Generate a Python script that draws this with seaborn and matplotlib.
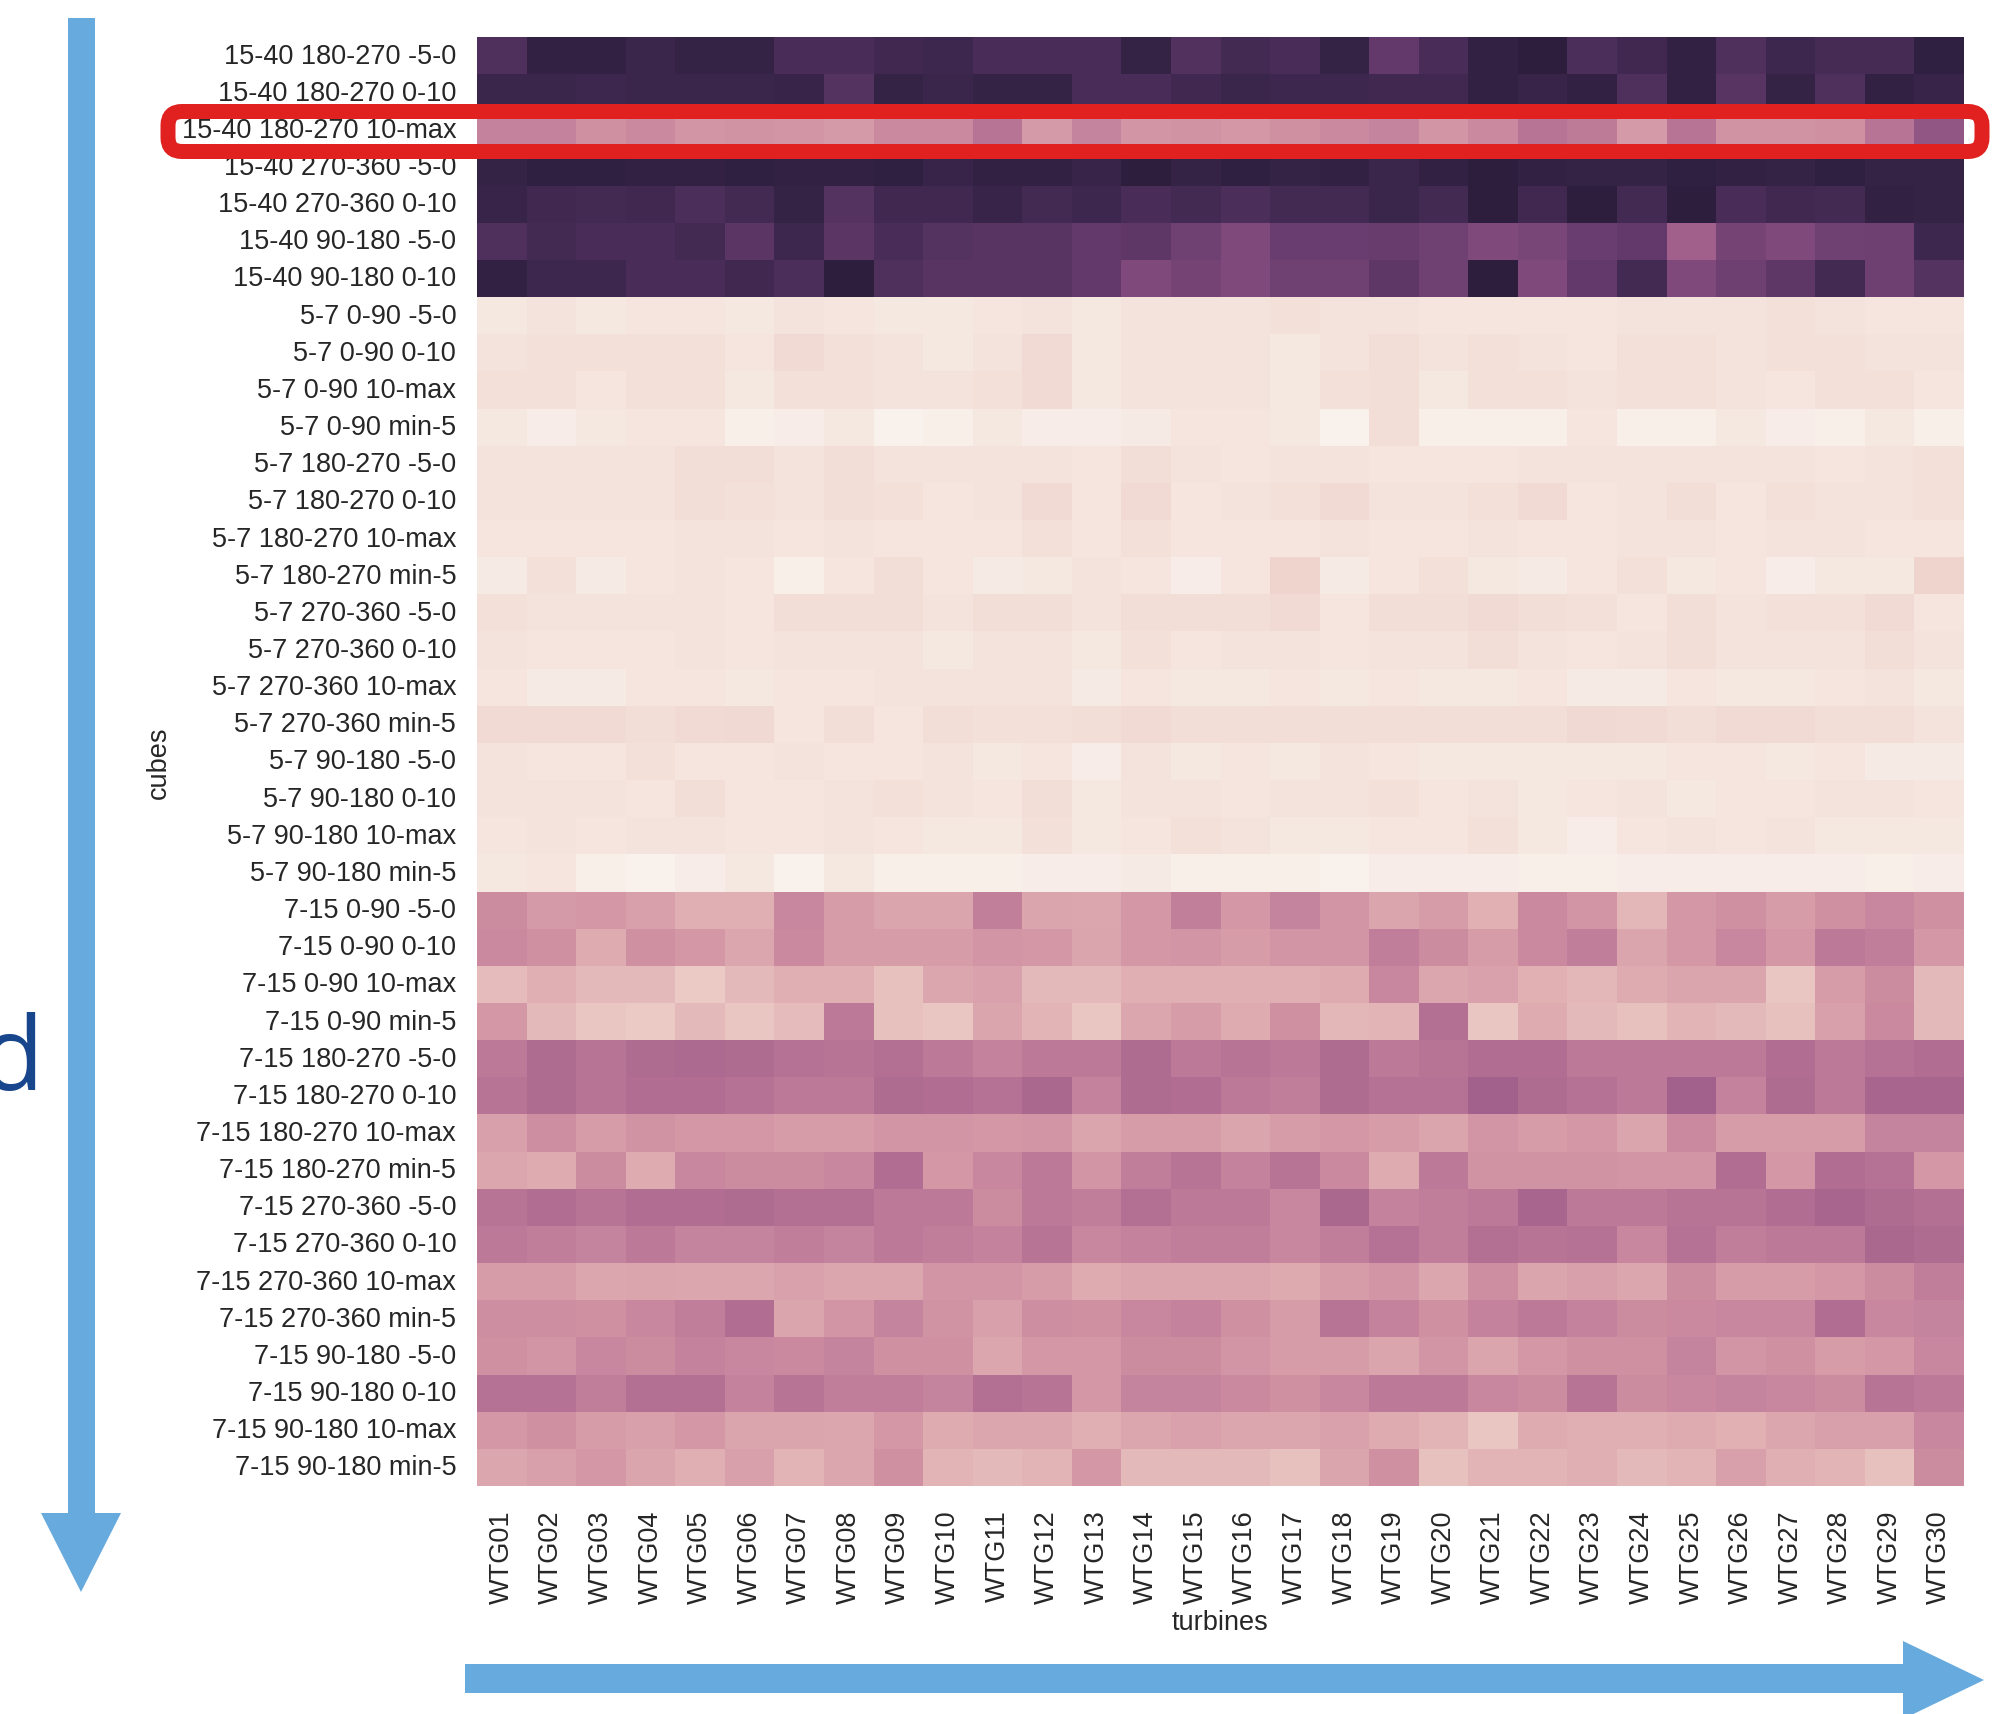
import numpy as np
import pandas as pd
import matplotlib
matplotlib.use("Agg")
import matplotlib.pyplot as plt
from matplotlib.patches import FancyBboxPatch, Polygon
import seaborn as sns

# ---- data -----------------------------------------------------------------
turbines = [f"WTG{i:02d}" for i in range(1, 31)]

cubes_15_40 = [
    "15-40 180-270 -5-0", "15-40 180-270 0-10", "15-40 180-270 10-max",
    "15-40 270-360 -5-0", "15-40 270-360 0-10",
    "15-40 90-180 -5-0", "15-40 90-180 0-10",
]
cubes_5_7 = [
    "5-7 0-90 -5-0", "5-7 0-90 0-10", "5-7 0-90 10-max", "5-7 0-90 min-5",
    "5-7 180-270 -5-0", "5-7 180-270 0-10", "5-7 180-270 10-max", "5-7 180-270 min-5",
    "5-7 270-360 -5-0", "5-7 270-360 0-10", "5-7 270-360 10-max", "5-7 270-360 min-5",
    "5-7 90-180 -5-0", "5-7 90-180 0-10", "5-7 90-180 10-max", "5-7 90-180 min-5",
]
cubes_7_15 = [
    "7-15 0-90 -5-0", "7-15 0-90 0-10", "7-15 0-90 10-max", "7-15 0-90 min-5",
    "7-15 180-270 -5-0", "7-15 180-270 0-10", "7-15 180-270 10-max", "7-15 180-270 min-5",
    "7-15 270-360 -5-0", "7-15 270-360 0-10", "7-15 270-360 10-max", "7-15 270-360 min-5",
    "7-15 90-180 -5-0", "7-15 90-180 0-10", "7-15 90-180 10-max", "7-15 90-180 min-5",
]

values_15_40 = [
    [0.88, 0.98, 0.98, 0.95, 0.97, 0.97, 0.90, 0.90, 0.93, 0.94, 0.90, 0.90, 0.90, 0.97, 0.87,
     0.92, 0.90, 0.97, 0.82, 0.90, 0.98, 1.00, 0.89, 0.93, 0.98, 0.88, 0.94, 0.91, 0.91, 0.99],
    [0.95, 0.95, 0.94, 0.95, 0.95, 0.95, 0.96, 0.86, 0.97, 0.95, 0.97, 0.97, 0.90, 0.90, 0.93,
     0.95, 0.94, 0.94, 0.93, 0.93, 0.98, 0.96, 0.98, 0.88, 0.98, 0.85, 0.97, 0.88, 0.98, 0.96],
    [0.44, 0.44, 0.38, 0.41, 0.36, 0.37, 0.36, 0.34, 0.41, 0.41, 0.50, 0.34, 0.43, 0.36, 0.37,
     0.35, 0.38, 0.41, 0.43, 0.36, 0.41, 0.50, 0.47, 0.34, 0.50, 0.37, 0.37, 0.38, 0.50, 0.65],
    [0.97, 0.99, 0.99, 0.98, 0.98, 0.99, 0.98, 0.98, 0.99, 0.96, 0.98, 0.98, 0.96, 1.00, 0.97,
     0.99, 0.97, 0.98, 0.95, 0.98, 1.00, 0.98, 0.97, 0.97, 0.99, 0.98, 0.97, 0.99, 0.97, 0.97],
    [0.96, 0.93, 0.92, 0.93, 0.89, 0.92, 0.97, 0.86, 0.93, 0.93, 0.96, 0.92, 0.94, 0.90, 0.92,
     0.89, 0.92, 0.92, 0.95, 0.92, 1.00, 0.93, 1.00, 0.92, 1.00, 0.90, 0.93, 0.92, 0.98, 0.97],
    [0.88, 0.92, 0.90, 0.90, 0.92, 0.84, 0.94, 0.84, 0.90, 0.86, 0.85, 0.85, 0.82, 0.83, 0.77,
     0.72, 0.79, 0.79, 0.80, 0.77, 0.72, 0.74, 0.79, 0.82, 0.60, 0.75, 0.72, 0.77, 0.78, 0.94],
    [0.98, 0.94, 0.94, 0.90, 0.90, 0.93, 0.89, 1.00, 0.88, 0.85, 0.85, 0.85, 0.82, 0.72, 0.75,
     0.72, 0.77, 0.77, 0.83, 0.77, 1.00, 0.72, 0.82, 0.92, 0.72, 0.78, 0.83, 0.92, 0.78, 0.86],
]

values_5_7 = [
    [0.04, 0.06, 0.04, 0.05, 0.05, 0.04, 0.06, 0.05, 0.04, 0.04, 0.05, 0.06, 0.04, 0.06, 0.06,
     0.06, 0.07, 0.06, 0.06, 0.05, 0.05, 0.05, 0.05, 0.06, 0.06, 0.06, 0.07, 0.06, 0.05, 0.05],
    [0.06, 0.07, 0.07, 0.07, 0.07, 0.05, 0.09, 0.07, 0.06, 0.04, 0.06, 0.09, 0.04, 0.06, 0.06,
     0.06, 0.04, 0.06, 0.08, 0.06, 0.07, 0.06, 0.05, 0.07, 0.07, 0.06, 0.07, 0.07, 0.06, 0.06],
    [0.07, 0.07, 0.05, 0.07, 0.07, 0.04, 0.07, 0.07, 0.06, 0.06, 0.07, 0.09, 0.04, 0.06, 0.06,
     0.06, 0.04, 0.07, 0.08, 0.04, 0.07, 0.07, 0.06, 0.07, 0.07, 0.06, 0.05, 0.07, 0.07, 0.05],
    [0.04, 0.02, 0.04, 0.05, 0.05, 0.01, 0.02, 0.04, 0.00, 0.01, 0.04, 0.02, 0.02, 0.03, 0.05,
     0.05, 0.04, 0.00, 0.08, 0.01, 0.01, 0.01, 0.05, 0.01, 0.01, 0.04, 0.02, 0.01, 0.04, 0.01],
    [0.06, 0.06, 0.06, 0.06, 0.08, 0.08, 0.06, 0.08, 0.06, 0.06, 0.06, 0.06, 0.05, 0.08, 0.06,
     0.05, 0.06, 0.06, 0.05, 0.05, 0.05, 0.06, 0.06, 0.06, 0.06, 0.06, 0.06, 0.05, 0.06, 0.07],
    [0.06, 0.06, 0.06, 0.06, 0.08, 0.07, 0.06, 0.08, 0.07, 0.05, 0.06, 0.09, 0.05, 0.09, 0.05,
     0.06, 0.07, 0.09, 0.06, 0.06, 0.07, 0.09, 0.05, 0.06, 0.08, 0.05, 0.07, 0.06, 0.06, 0.07],
    [0.05, 0.05, 0.05, 0.05, 0.06, 0.06, 0.05, 0.06, 0.05, 0.05, 0.05, 0.07, 0.05, 0.07, 0.05,
     0.05, 0.05, 0.06, 0.05, 0.05, 0.06, 0.05, 0.05, 0.06, 0.06, 0.05, 0.06, 0.06, 0.05, 0.05],
    [0.03, 0.07, 0.03, 0.05, 0.06, 0.05, 0.01, 0.05, 0.08, 0.05, 0.03, 0.04, 0.06, 0.05, 0.02,
     0.05, 0.12, 0.03, 0.05, 0.07, 0.04, 0.03, 0.05, 0.07, 0.04, 0.05, 0.02, 0.04, 0.04, 0.12],
    [0.07, 0.06, 0.06, 0.06, 0.06, 0.05, 0.08, 0.08, 0.08, 0.06, 0.08, 0.08, 0.06, 0.08, 0.08,
     0.08, 0.09, 0.05, 0.08, 0.08, 0.09, 0.08, 0.07, 0.05, 0.08, 0.06, 0.07, 0.07, 0.09, 0.05],
    [0.06, 0.05, 0.05, 0.05, 0.06, 0.05, 0.06, 0.06, 0.06, 0.04, 0.06, 0.06, 0.04, 0.07, 0.05,
     0.06, 0.06, 0.05, 0.06, 0.06, 0.08, 0.06, 0.05, 0.06, 0.08, 0.06, 0.06, 0.06, 0.08, 0.06],
    [0.05, 0.03, 0.03, 0.05, 0.05, 0.04, 0.05, 0.05, 0.06, 0.06, 0.06, 0.06, 0.03, 0.05, 0.04,
     0.04, 0.05, 0.04, 0.05, 0.04, 0.04, 0.05, 0.03, 0.03, 0.05, 0.04, 0.04, 0.05, 0.06, 0.04],
    [0.09, 0.09, 0.09, 0.08, 0.09, 0.10, 0.05, 0.08, 0.05, 0.08, 0.07, 0.07, 0.08, 0.09, 0.08,
     0.08, 0.08, 0.08, 0.08, 0.08, 0.08, 0.08, 0.10, 0.09, 0.08, 0.09, 0.09, 0.08, 0.08, 0.06],
    [0.06, 0.05, 0.05, 0.07, 0.05, 0.05, 0.06, 0.05, 0.05, 0.06, 0.04, 0.05, 0.02, 0.06, 0.04,
     0.05, 0.04, 0.06, 0.05, 0.04, 0.04, 0.04, 0.04, 0.04, 0.05, 0.05, 0.04, 0.05, 0.03, 0.03],
    [0.06, 0.06, 0.06, 0.05, 0.08, 0.05, 0.05, 0.06, 0.07, 0.06, 0.05, 0.08, 0.04, 0.06, 0.06,
     0.05, 0.06, 0.06, 0.07, 0.05, 0.06, 0.04, 0.05, 0.06, 0.04, 0.05, 0.05, 0.06, 0.06, 0.05],
    [0.05, 0.06, 0.05, 0.06, 0.06, 0.05, 0.05, 0.06, 0.05, 0.04, 0.04, 0.07, 0.04, 0.05, 0.07,
     0.06, 0.04, 0.04, 0.05, 0.05, 0.07, 0.04, 0.02, 0.05, 0.06, 0.05, 0.06, 0.04, 0.04, 0.04],
    [0.04, 0.05, 0.01, 0.00, 0.02, 0.04, 0.00, 0.04, 0.01, 0.01, 0.01, 0.02, 0.02, 0.03, 0.01,
     0.01, 0.01, 0.00, 0.02, 0.02, 0.02, 0.01, 0.01, 0.02, 0.02, 0.02, 0.02, 0.02, 0.01, 0.02],
]

values_7_15 = [
    [0.40, 0.34, 0.35, 0.32, 0.26, 0.26, 0.42, 0.33, 0.30, 0.30, 0.45, 0.30, 0.29, 0.35, 0.45,
     0.35, 0.43, 0.36, 0.30, 0.33, 0.25, 0.41, 0.36, 0.23, 0.35, 0.38, 0.33, 0.38, 0.42, 0.38],
    [0.41, 0.38, 0.27, 0.38, 0.35, 0.29, 0.41, 0.33, 0.33, 0.33, 0.36, 0.35, 0.30, 0.35, 0.36,
     0.33, 0.36, 0.36, 0.46, 0.40, 0.33, 0.41, 0.46, 0.30, 0.35, 0.42, 0.35, 0.48, 0.46, 0.35],
    [0.21, 0.26, 0.22, 0.22, 0.16, 0.22, 0.26, 0.26, 0.19, 0.29, 0.31, 0.22, 0.22, 0.26, 0.26,
     0.26, 0.26, 0.27, 0.42, 0.29, 0.31, 0.25, 0.23, 0.27, 0.30, 0.30, 0.17, 0.33, 0.40, 0.22],
    [0.35, 0.22, 0.17, 0.16, 0.22, 0.17, 0.21, 0.48, 0.19, 0.17, 0.30, 0.24, 0.17, 0.29, 0.33,
     0.27, 0.38, 0.23, 0.24, 0.52, 0.17, 0.27, 0.22, 0.19, 0.24, 0.22, 0.19, 0.32, 0.41, 0.22],
    [0.48, 0.54, 0.50, 0.54, 0.55, 0.54, 0.51, 0.50, 0.52, 0.48, 0.44, 0.48, 0.48, 0.54, 0.48,
     0.50, 0.48, 0.54, 0.48, 0.50, 0.53, 0.53, 0.48, 0.48, 0.48, 0.48, 0.53, 0.48, 0.51, 0.53],
    [0.50, 0.54, 0.50, 0.53, 0.53, 0.51, 0.48, 0.48, 0.54, 0.53, 0.51, 0.56, 0.44, 0.54, 0.53,
     0.48, 0.46, 0.54, 0.51, 0.51, 0.59, 0.54, 0.51, 0.48, 0.59, 0.44, 0.54, 0.48, 0.57, 0.57],
    [0.32, 0.39, 0.33, 0.37, 0.35, 0.35, 0.33, 0.33, 0.36, 0.36, 0.35, 0.36, 0.30, 0.33, 0.33,
     0.30, 0.33, 0.35, 0.33, 0.30, 0.36, 0.33, 0.35, 0.30, 0.41, 0.33, 0.33, 0.33, 0.43, 0.43],
    [0.29, 0.27, 0.40, 0.27, 0.42, 0.40, 0.40, 0.42, 0.53, 0.35, 0.42, 0.48, 0.36, 0.46, 0.50,
     0.44, 0.50, 0.41, 0.27, 0.48, 0.37, 0.37, 0.37, 0.36, 0.36, 0.53, 0.35, 0.53, 0.51, 0.35],
    [0.50, 0.53, 0.50, 0.53, 0.53, 0.54, 0.52, 0.52, 0.48, 0.48, 0.40, 0.48, 0.46, 0.52, 0.48,
     0.48, 0.42, 0.56, 0.44, 0.46, 0.48, 0.57, 0.48, 0.48, 0.50, 0.50, 0.53, 0.57, 0.54, 0.52],
    [0.48, 0.46, 0.43, 0.48, 0.43, 0.43, 0.46, 0.43, 0.48, 0.46, 0.44, 0.50, 0.42, 0.44, 0.46,
     0.46, 0.42, 0.46, 0.51, 0.46, 0.52, 0.50, 0.51, 0.42, 0.51, 0.46, 0.48, 0.48, 0.56, 0.54],
    [0.33, 0.33, 0.29, 0.30, 0.29, 0.29, 0.31, 0.29, 0.29, 0.36, 0.36, 0.33, 0.27, 0.29, 0.29,
     0.29, 0.28, 0.33, 0.36, 0.29, 0.39, 0.30, 0.32, 0.29, 0.40, 0.33, 0.33, 0.35, 0.40, 0.46],
    [0.39, 0.39, 0.38, 0.42, 0.46, 0.53, 0.30, 0.36, 0.43, 0.37, 0.32, 0.39, 0.38, 0.42, 0.44,
     0.38, 0.33, 0.50, 0.44, 0.38, 0.44, 0.48, 0.44, 0.40, 0.41, 0.42, 0.42, 0.53, 0.42, 0.43],
    [0.38, 0.36, 0.42, 0.40, 0.44, 0.42, 0.41, 0.43, 0.38, 0.38, 0.29, 0.35, 0.35, 0.40, 0.40,
     0.36, 0.33, 0.33, 0.30, 0.36, 0.30, 0.35, 0.38, 0.38, 0.43, 0.36, 0.38, 0.33, 0.35, 0.42],
    [0.51, 0.51, 0.46, 0.52, 0.52, 0.44, 0.50, 0.46, 0.46, 0.43, 0.52, 0.50, 0.35, 0.43, 0.43,
     0.41, 0.38, 0.42, 0.48, 0.48, 0.42, 0.40, 0.50, 0.40, 0.42, 0.43, 0.42, 0.40, 0.50, 0.48],
    [0.35, 0.38, 0.33, 0.32, 0.35, 0.30, 0.30, 0.29, 0.35, 0.27, 0.29, 0.29, 0.26, 0.29, 0.31,
     0.29, 0.29, 0.31, 0.27, 0.24, 0.17, 0.27, 0.26, 0.26, 0.27, 0.25, 0.29, 0.32, 0.32, 0.42],
    [0.29, 0.32, 0.35, 0.30, 0.26, 0.32, 0.24, 0.29, 0.38, 0.24, 0.22, 0.24, 0.35, 0.22, 0.22,
     0.22, 0.19, 0.30, 0.38, 0.19, 0.24, 0.24, 0.26, 0.22, 0.24, 0.32, 0.26, 0.24, 0.19, 0.40],
]

# ---- table: cubes x turbines ------------------------------------------------
cube_labels = cubes_15_40 + cubes_5_7 + cubes_7_15
table = pd.DataFrame(values_15_40 + values_5_7 + values_7_15,
                     index=pd.Index(cube_labels, name="cubes"),
                     columns=pd.Index(turbines, name="turbines"))

# ---- figure ---------------------------------------------------------------------
W, H = 1998, 1715
sns.set_style("white")
plt.rcParams["font.family"] = ["Liberation Sans", "DejaVu Sans"]
plt.rcParams["text.color"] = "#262626"
plt.rcParams["axes.labelcolor"] = "#262626"

fig = plt.figure(figsize=(W / 100, H / 100), dpi=100)
ax = fig.add_axes([477 / W, 1 - 1487 / H, (1964 - 477) / W, (1487 - 38) / H])

cmap = sns.cubehelix_palette(light=0.95, as_cmap=True)
sns.heatmap(table, cmap=cmap, cbar=False, ax=ax, linewidths=0)

ax.tick_params(axis="both", length=0, labelsize=19.5, labelcolor="#262626")
ax.tick_params(axis="y", pad=15)
ax.tick_params(axis="x", pad=17)
plt.setp(ax.get_yticklabels(), rotation=0)
plt.setp(ax.get_xticklabels(), rotation=90)

ax.set_ylabel("cubes", fontsize=19.5)
ax.yaxis.label.set_va("center")
ax.yaxis.set_label_coords((159 - 477) / (1964 - 477), 0.5)
ax.set_xlabel("turbines", fontsize=19.5)
ax.xaxis.label.set_va("center")
ax.xaxis.set_label_coords(0.5, -(1623 - 1487) / (1487 - 38))

# ---- annotation layer in pixel coordinates --------------------------------------
over = fig.add_axes([0, 0, 1, 1], zorder=10)
over.set_xlim(0, W)
over.set_ylim(H, 0)
over.set_axis_off()
over.patch.set_alpha(0)

arrow_blue = "#67aadd"
# vertical arrow along the cube axis
over.add_patch(Polygon([(68, 19), (95, 19), (95, 1514), (121, 1514), (81, 1593),
                        (41, 1514), (68, 1514)], closed=True,
                       facecolor=arrow_blue, edgecolor="none"))
# horizontal arrow along the turbine axis
over.add_patch(Polygon([(465, 1665), (1903, 1665), (1903, 1642), (1984, 1681),
                        (1903, 1720), (1903, 1694), (465, 1694)], closed=True,
                       facecolor=arrow_blue, edgecolor="none"))

# highlight of the 15-40 180-270 10-max row
over.add_patch(FancyBboxPatch((168, 112.5), 1982 - 168, 152.5 - 112.5,
                              boxstyle="round,pad=0,rounding_size=14",
                              facecolor="none", edgecolor="#e0211f",
                              linewidth=15 * 0.72))

over.text(43, 1090, "d", ha="right", va="baseline", fontsize=74,
          family=["Open Sans", "DejaVu Sans"], weight="normal", color="#17468c")

fig.savefig("out.png", dpi=100)
